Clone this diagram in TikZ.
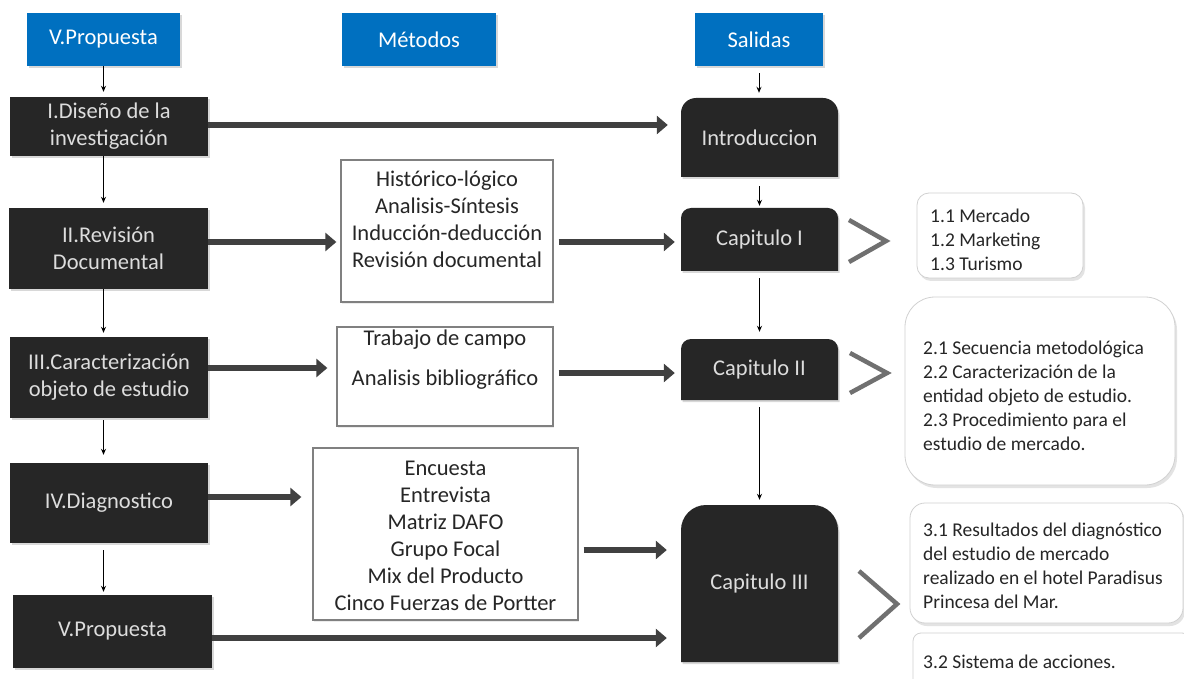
\documentclass[tikz,border=0pt]{standalone}
\usepackage{fontspec}
\setmainfont{Carlito}
\usetikzlibrary{arrows.meta,shadows}
\definecolor{hblue}{HTML}{0070C0}
\definecolor{boxblk}{HTML}{262626}
\definecolor{boxtxt}{HTML}{DDDDDD}
\definecolor{arrgray}{HTML}{404040}
\definecolor{chevgray}{HTML}{707070}
\newcommand\fbig{\fontsize{22.5}{27}\selectfont}
\newcommand\fsmall{\fontsize{19.5}{24}\selectfont}
\tikzset{
  shd/.style={drop shadow={shadow xshift=1.5pt,shadow yshift=-2pt,opacity=0.3}},
  hdr/.style={fill=hblue, text=white, minimum width=#1, minimum height=53pt,
    inner sep=0pt, font=\fbig, shd},
  blk/.style={fill=boxblk, text=boxtxt, inner sep=0pt, font=\fbig, align=center, shd},
  rtxt/.style={text=boxtxt, inner sep=0pt, font=\fbig, align=center},
  mbox/.style={draw=black!50, line width=1.3pt, fill=white, inner sep=0pt,
    drop shadow={shadow xshift=1pt,shadow yshift=-1.5pt,opacity=0.15}},
  mtxt/.style={text=black!85, inner sep=0pt, font=\fbig, align=center},
  lbox/.style={draw=black!18, fill=white, line width=0.8pt, inner sep=0pt,
    drop shadow={shadow xshift=2pt,shadow yshift=-3pt,opacity=0.22}},
  ltxt/.style={text=black!85, inner sep=0pt, font=\fsmall, align=left, anchor=west},
  thinarr/.style={draw=black, line width=1pt, -{Stealth[length=6pt,width=5pt]}},
  fat/.style={draw=arrgray, line width=6.5pt, -{Triangle[length=11pt,width=18pt]}},
  chev/.style={draw=chevgray, line width=4.5pt},
}
\newcommand\topround[5]{%
  \fill[boxblk, shd] [rounded corners=#5pt] (#1,#2) rectangle (#3,#4)
    [sharp corners] (#1,{(#2+#4)/2}) rectangle (#3,#4);}
\begin{document}
\begin{tikzpicture}[x=1pt, y=-1pt]
\useasboundingbox (0,0) rectangle (1184,679);
\clip (0,0) rectangle (1184,679);
\fill[white] (0,0) rectangle (1184,679);

% headers
\node[hdr=153pt] (hP) at (103.5,39.5) {V.Propuesta};
\node[hdr=154pt] (hM) at (419,39.5) {Métodos};
\node[hdr=128pt] (hS) at (759,39.5) {Salidas};

% left column
\node[blk, minimum width=198pt, minimum height=59pt] (bI) at (109,126.5) {I.Diseño de la\\investigación};
\node[blk, minimum width=199pt, minimum height=81pt] (bII) at (108.5,248.5) {II.Revisión\\Documental};
\node[blk, minimum width=198pt, minimum height=81pt] (bIII) at (109,377.5) {III.Caracterización\\objeto de estudio};
\node[blk, minimum width=198pt, minimum height=80pt] (bIV) at (109,503) {IV.Diagnostico};
\node[blk, minimum width=199pt, minimum height=73pt] (bV) at (112.5,631.5) {V.Propuesta};

% middle column
\node[mbox, minimum width=212pt, minimum height=142pt] (mA) at (447,231) {};
\node[mtxt] (mAt) at (447,219) {Histórico-lógico\\Analisis-Síntesis\\Inducción-deducción\\Revisión documental};
\node[mbox, minimum width=216pt, minimum height=99pt] (mB) at (445,376.5) {};
\node[mtxt] (mBt) at (445,360) {Trabajo de campo\\[13pt]Analisis bibliográfico};
\node[mbox, minimum width=265pt, minimum height=172pt] (mC) at (445.5,534) {};
\node[mtxt] (mCt) at (445.5,535.5) {Encuesta\\Entrevista\\Matriz DAFO\\Grupo Focal\\Mix del Producto\\Cinco Fuerzas de Portter};

% right column (rounded top)
\topround{681}{98}{838}{177}{15}
\node[rtxt, minimum width=157pt, minimum height=79pt] (intro) at (759.5,137.5) {Introduccion};
\topround{681}{208}{838}{271}{10}
\node[rtxt, minimum width=157pt, minimum height=63pt] (cap1) at (759.5,239.5) {Capitulo I};
\topround{681}{339}{838}{400}{10}
\node[rtxt, minimum width=157pt, minimum height=61pt] (cap2) at (759.5,369.5) {Capitulo II};
\topround{681}{505}{838}{662}{25}
\node[rtxt, minimum width=157pt, minimum height=157pt] (cap3) at (759.5,583.5) {Capitulo III};

% far right boxes
\node[lbox, rounded corners=12pt, minimum width=166pt, minimum height=85pt] (r1) at (1000,235.5) {};
\node[ltxt] (r1t) at (930,239.5) {1.1 Mercado\\1.2 Marketing\\1.3 Turismo};
\node[lbox, rounded corners=30pt, minimum width=270pt, minimum height=188pt] (r2) at (1040,391) {};
\node[ltxt] (r2t) at (923,395.5) {2.1 Secuencia metodológica\\2.2 Caracterización de la\\entidad objeto de estudio.\\2.3 Procedimiento para el\\estudio de mercado.};
\node[lbox, rounded corners=15pt, minimum width=273pt, minimum height=120pt] (r3) at (1046.5,563) {};
\node[ltxt] (r3t) at (923,566) {3.1 Resultados del diagnóstico\\del estudio de mercado\\realizado en el hotel Paradisus\\Princesa del Mar.};
\node[lbox, rounded corners=8pt, minimum width=277pt, minimum height=67pt] (r4) at (1051.5,666.5) {};
\node[ltxt] (r4t) at (923,662) {3.2 Sistema de acciones.};

% chevrons
\draw[chev] (849,220) -- (886,241) -- (849,262);
\draw[chev] (850,353) -- (887,373) -- (850,393);
\draw[chev] (859,571) -- (897,604) -- (859,638);

% thin arrows left
\draw[thinarr, shorten >=5pt] (hP.south) -- (hP.south |- bI.north);
\draw[thinarr, shorten >=5pt] (bI.south -| hP.south) -- (bII.north -| hP.south);
\draw[thinarr, shorten >=4pt] (bII.south -| hP.south) -- (bIII.north -| hP.south);
\draw[thinarr, shorten <=2pt, shorten >=8pt] (bIII.south -| hP.south) -- (bIV.north -| hP.south);
\draw[thinarr, shorten <=7pt, shorten >=3pt] (bIV.south -| hP.south) -- (bV.north -| hP.south);

% thin arrows right
\draw[thinarr, shorten <=7pt, shorten >=5pt] (hS.south) -- (hS.south |- intro.north);
\draw[thinarr, shorten <=9pt, shorten >=2pt] (intro.south) -- (cap1.north);
\draw[thinarr, shorten <=7pt, shorten >=7pt] (cap1.south) -- (cap2.north);
\draw[thinarr, shorten <=7pt, shorten >=5pt] (cap2.south) -- (cap3.north);

% fat arrows
\coordinate (y1) at (0,125);
\coordinate (y2) at (0,242);
\coordinate (y3a) at (0,368);
\coordinate (y3b) at (0,373);
\coordinate (y4a) at (0,497);
\coordinate (y4b) at (0,550);
\coordinate (y5) at (0,638);
\draw[fat, shorten >=13pt] (bI.east |- y1) -- (intro.west |- y1);
\draw[fat, shorten >=4pt] (bII.east |- y2) -- (mA.west |- y2);
\draw[fat, shorten <=5pt, shorten >=6pt] (mA.east |- y2) -- (cap1.west |- y2);
\draw[fat, shorten >=9pt] (bIII.east |- y3a) -- (mB.west |- y3a);
\draw[fat, shorten <=5pt, shorten >=6pt] (mB.east |- y3b) -- (cap2.west |- y3b);
\draw[fat, shorten >=11pt] (bIV.east |- y4a) -- (mC.west |- y4a);
\draw[fat, shorten <=5pt, shorten >=14pt] (mC.east |- y4b) -- (cap3.west |- y4b);
\draw[fat, shorten >=14pt] (bV.east |- y5) -- (cap3.west |- y5);
\end{tikzpicture}
\end{document}
